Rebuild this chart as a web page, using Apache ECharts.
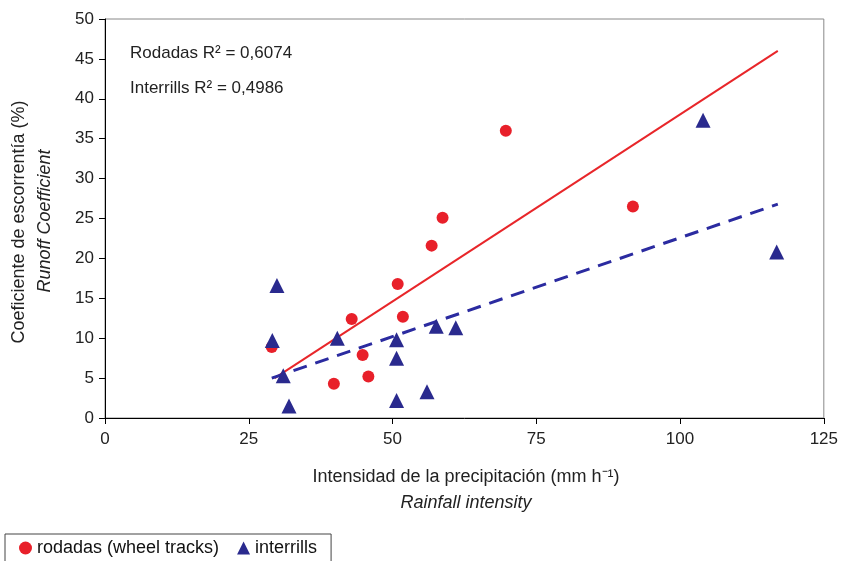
<!DOCTYPE html>
<html><head><meta charset="utf-8">
<script src="https://cdn.jsdelivr.net/npm/echarts@6/dist/echarts.min.js"></script>
<style>html,body{margin:0;padding:0;background:#fff}#c{width:841px;height:561px}</style>
</head><body><div id="c"></div>
<script>
const rodadas = [[29.0,8.9],[39.8,4.3],[42.9,12.4],[44.8,7.9],[45.8,5.2],[50.9,16.8],[51.8,12.7],[56.8,21.6],[58.7,25.1],[69.7,36.0],[91.8,26.5]];
const interrills = [[29.9,16.6],[29.1,9.7],[31.0,5.3],[32.0,1.5],[40.4,10.0],[50.7,9.8],[50.7,7.5],[50.7,2.2],[56.0,3.3],[57.6,11.5],[61.0,11.3],[104.0,37.3],[116.8,20.8]];
const rodadasTrend = [[29.5,5.0],[117,46.0]];
const interrillsTrend = [[29.0,5.0],[117,26.8]];
const xTicks = [0,25,50,75,100,125];
const yTicks = [0,5,10,15,20,25,30,35,40,45,50];
const annot = ['Rodadas R² = 0,6074','Interrills R² = 0,4986'];
const F = 'Liberation Sans, Arial, sans-serif';
const chart = echarts.init(document.getElementById('c'));
chart.setOption({
  animation:false,
  backgroundColor:'#fff',
  grid:{left:105,right:17,top:19,bottom:143,show:true,borderColor:'#888',borderWidth:1},
  xAxis:{type:'value',min:0,max:125,interval:25,
    axisLine:{show:true,lineStyle:{color:'#000',width:1}},
    axisTick:{show:true,inside:false,length:6,lineStyle:{color:'#000'}},
    axisLabel:{fontFamily:F,fontSize:17,color:'#222',margin:13},
    splitLine:{show:false}},
  yAxis:{type:'value',min:0,max:50,interval:5,
    axisLine:{show:true,lineStyle:{color:'#000',width:1}},
    axisTick:{show:true,inside:false,length:6,lineStyle:{color:'#000'}},
    axisLabel:{fontFamily:F,fontSize:17,color:'#222',margin:11},
    splitLine:{show:false}},
  legend:{left:5,top:534,itemGap:18,itemWidth:13,itemHeight:13,
    borderColor:'#444',borderWidth:1,padding:[5,14,6,14],
    textStyle:{fontFamily:F,fontSize:18,color:'#111'},
    data:[{name:'rodadas (wheel tracks)',icon:'circle'},{name:'interrills',icon:'triangle'}]},
  graphic:[
    {type:'text',x:130,y:53,style:{text:annot[0],font:'17px '+F,fill:'#222',textVerticalAlign:'middle'}},
    {type:'text',x:130,y:88,style:{text:annot[1],font:'17px '+F,fill:'#222',textVerticalAlign:'middle'}},
    {type:'text',x:466,y:477,style:{text:'Intensidad de la precipitación (mm h⁻¹)',font:'18px '+F,fill:'#222',textAlign:'center',textVerticalAlign:'middle'}},
    {type:'text',x:466,y:503,style:{text:'Rainfall intensity',font:'italic 18px '+F,fill:'#222',textAlign:'center',textVerticalAlign:'middle'}},
    {type:'text',x:19,y:222,rotation:Math.PI/2,style:{text:'Coeficiente de escorrentía (%)',font:'18px '+F,fill:'#222',textAlign:'center',textVerticalAlign:'middle'}},
    {type:'text',x:45,y:221,rotation:Math.PI/2,style:{text:'Runoff Coefficient',font:'italic 18px '+F,fill:'#222',textAlign:'center',textVerticalAlign:'middle'}}
  ],
  series:[
    {name:'rodadas trend',type:'line',data:rodadasTrend,symbol:'none',silent:true,z:3,
      lineStyle:{color:'#e8262a',width:2}},
    {name:'interrills trend',type:'line',data:interrillsTrend,symbol:'none',silent:true,z:3,
      lineStyle:{color:'#2b2ba0',width:3,type:[14,9]}},
    {name:'rodadas (wheel tracks)',type:'scatter',data:rodadas,symbol:'circle',symbolSize:12,z:4,
      itemStyle:{color:'#e8202a',opacity:1}},
    {name:'interrills',type:'scatter',data:interrills,symbol:'triangle',symbolSize:15,z:5,
      itemStyle:{color:'#2a2a8e',opacity:1}}
  ]
});
</script></body></html>
